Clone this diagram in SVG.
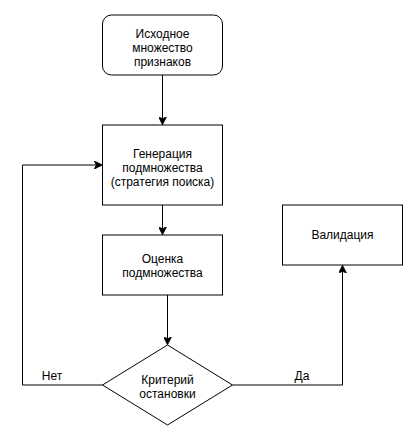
<svg xmlns="http://www.w3.org/2000/svg" width="418" height="441" viewBox="0 0 418 441">
<style>
.box{fill:#fff;stroke:#000;stroke-width:1}
.ln{fill:none;stroke:#000;stroke-width:1}
text{font-family:"Liberation Sans",Arial,Helvetica,sans-serif;font-size:12px;fill:#000;text-anchor:middle}
</style>
<defs>
<marker id="arr" viewBox="0 0 10 10" refX="9" refY="5" markerWidth="8" markerHeight="8" markerUnits="userSpaceOnUse" orient="auto">
<path d="M0,0 L10,5 L0,10 L2.5,5 Z" fill="#000" stroke="#000" stroke-width="1"/>
</marker>
</defs>
<g id="connectors">
<path class="ln" d="M162.5,75 V124" marker-end="url(#arr)"/>
<path class="ln" d="M162.5,205 V234" marker-end="url(#arr)"/>
<path class="ln" d="M167.5,295 V344" marker-end="url(#arr)"/>
<path class="ln" d="M102.5,385 H22.5 V165 H101.5" marker-end="url(#arr)"/>
<path class="ln" d="M232.5,385 H342.5 V266" marker-end="url(#arr)"/>
<text x="52" y="380">Нет</text>
<text x="302" y="380">Да</text>
</g>
<g id="node-source">
<rect class="box" x="102.5" y="15" width="120" height="60" rx="9" ry="9"/>
<text x="162.5" y="38">Исходное</text>
<text x="162.5" y="52">множество</text>
<text x="162.5" y="66">признаков</text>
</g>
<g id="node-generation">
<rect class="box" x="102.5" y="125" width="120" height="80"/>
<text x="162.5" y="158">Генерация</text>
<text x="162.5" y="172">подмножества</text>
<text x="162.5" y="186">(стратегия поиска)</text>
</g>
<g id="node-evaluation">
<rect class="box" x="102.5" y="235" width="120" height="60"/>
<text x="162.5" y="263">Оценка</text>
<text x="162.5" y="277">подмножества</text>
</g>
<g id="node-criterion">
<path class="box" d="M167.5,345 L232.5,385 L167.5,425 L102.5,385 Z"/>
<text x="167.5" y="384">Критерий</text>
<text x="167.5" y="398">остановки</text>
</g>
<g id="node-validation">
<rect class="box" x="282.5" y="205" width="120" height="60"/>
<text x="342.5" y="239">Валидация</text>
</g>
</svg>
